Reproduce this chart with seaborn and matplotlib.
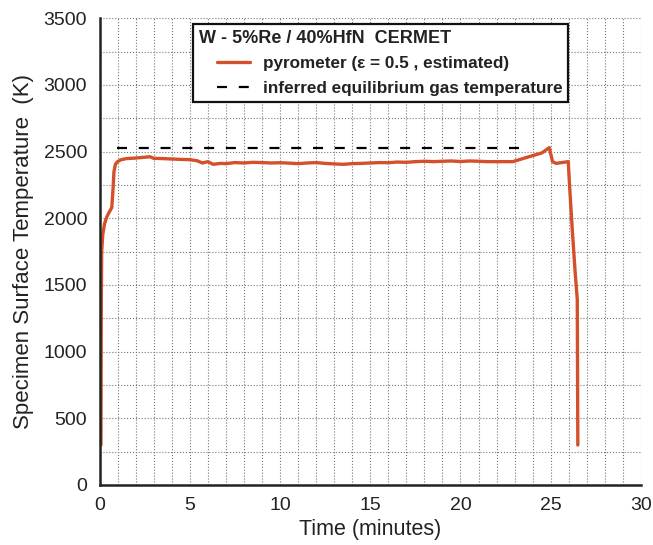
import matplotlib
matplotlib.use("Agg")
import matplotlib.pyplot as plt
import seaborn as sns
import pandas as pd
from matplotlib.ticker import MultipleLocator
from matplotlib.legend_handler import HandlerLine2D

# ---- data ----
time_min = [0.08, 0.09, 0.10, 0.12, 0.18, 0.28, 0.40, 0.55, 0.68, 0.74, 0.80, 0.88,
            1.0, 1.2, 1.5, 2.0, 2.5, 2.8, 3.0, 3.5, 4.0, 4.5, 5.0, 5.4, 5.7, 6.0,
            6.3, 6.7, 7.0, 7.5, 8.0, 8.5, 9.0, 9.5, 10.0, 10.5, 11.0, 11.5, 12.0,
            12.5, 13.0, 13.5, 14.0, 14.5, 15.0, 15.5, 16.0, 16.5, 17.0, 17.5, 18.0,
            18.5, 19.0, 19.5, 20.0, 20.5, 21.0, 21.5, 22.0, 22.5, 22.9, 23.5, 24.0,
            24.5, 24.92, 25.1, 25.3, 25.6, 25.97, 26.05, 26.2, 26.35, 26.47, 26.5]
temp_K = [300, 900, 1400, 1750, 1880, 1960, 2010, 2050, 2080, 2200, 2350, 2405,
          2425, 2440, 2448, 2452, 2458, 2462, 2450, 2448, 2445, 2442, 2440, 2432, 2415, 2425,
          2405, 2412, 2410, 2418, 2415, 2420, 2418, 2415, 2417, 2414, 2410, 2415, 2418,
          2412, 2408, 2405, 2410, 2412, 2415, 2418, 2417, 2422, 2420, 2425, 2428,
          2425, 2428, 2430, 2426, 2430, 2428, 2425, 2425, 2425, 2425, 2450, 2470,
          2490, 2530, 2425, 2412, 2418, 2425, 2230, 1900, 1600, 1390, 300]
gas_time = [0.95, 23.4]
gas_temp = [2530, 2530]

legend_title = "W - 5%Re / 40%HfN  CERMET"
label_pyro = "pyrometer (\u03b5 = 0.5 , estimated)"
label_gas = "inferred equilibrium gas temperature"

df = pd.DataFrame({"t": time_min, "T": temp_K})
dg = pd.DataFrame({"t": gas_time, "T": gas_temp})

sns.set_style("white")
plt.rcParams["font.family"] = ["Liberation Sans", "DejaVu Sans"]

fig = plt.figure(figsize=(6.53, 5.45), dpi=100)
ax = fig.add_axes([0.1524, 0.1101, 0.8292, 0.8563])

sns.lineplot(data=df, x="t", y="T", ax=ax, color="#d4502a", lw=2.4,
             label=label_pyro, sort=False, estimator=None)
sns.lineplot(data=dg, x="t", y="T", ax=ax, color="black", lw=1.6,
             label=label_gas, sort=False, estimator=None)
ax.lines[1].set_linestyle((0, (4.5, 5.3)))

ax.set_xlim(0, 30)
ax.set_ylim(0, 3500)
ax.xaxis.set_major_locator(MultipleLocator(5))
ax.xaxis.set_minor_locator(MultipleLocator(1))
ax.yaxis.set_major_locator(MultipleLocator(500))
ax.yaxis.set_minor_locator(MultipleLocator(250))

ax.grid(True, which="both", linestyle=":", color="#777777", lw=0.8)
ax.set_axisbelow(True)

for s in ["top", "right"]:
    ax.spines[s].set_visible(False)
for s in ["left", "bottom"]:
    ax.spines[s].set_linewidth(1.8)
    ax.spines[s].set_color("#222222")

ax.tick_params(axis="both", which="major", direction="in", length=8, width=1.8,
               color="#222222", labelsize=14, labelcolor="#222222")
ax.tick_params(axis="both", which="minor", direction="in", length=5, width=1.2,
               color="#222222")
ax.tick_params(axis="x", which="major", pad=9)
ax.tick_params(axis="y", which="major", pad=9)

ax.set_xlabel("Time (minutes)", fontsize=15.5, color="#222222", labelpad=3)
ax.set_ylabel("Specimen Surface Temperature  (K)", fontsize=16, color="#222222", labelpad=7)


class ShiftedHandler(HandlerLine2D):
    """Line handle indented to the right inside its handle box."""
    shift = 13.5  # points

    def create_artists(self, legend, orig_handle, xdescent, ydescent, width,
                       height, fontsize, trans):
        return super().create_artists(legend, orig_handle, xdescent - self.shift,
                                      ydescent, width - self.shift, height,
                                      fontsize, trans)


h, l = ax.get_legend_handles_labels()
leg = ax.legend(h, l, title=legend_title, loc="upper left",
                bbox_to_anchor=(0.1727, 0.988), borderaxespad=0,
                frameon=True, fancybox=False, handlelength=3.0, handletextpad=0.75,
                prop={"weight": "bold", "size": 12.3},
                title_fontproperties={"weight": "bold", "size": 13},
                alignment="left", borderpad=0.33, labelspacing=0.58,
                handler_map={h[0]: ShiftedHandler(), h[1]: ShiftedHandler()})
leg.get_frame().set_edgecolor("#111111")
leg.get_frame().set_linewidth(1.6)
leg.get_frame().set_alpha(1)
for t in leg.get_texts():
    t.set_color("#222222")
leg.get_title().set_color("#222222")

fig.savefig("out.png", dpi=100)
